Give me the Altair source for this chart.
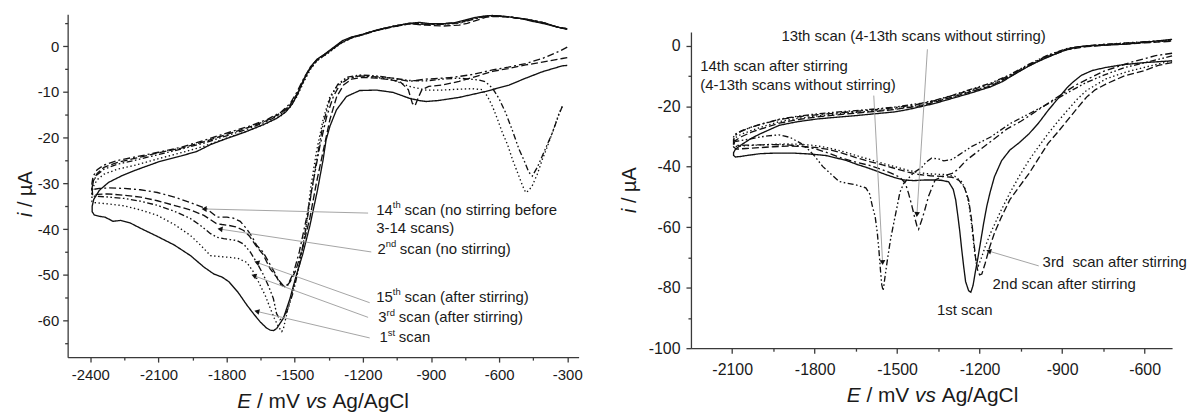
import json
import altair as alt
import pandas as pd

FONT = "Liberation Sans"
INK = "#111111"

# ---------------- Left panel (E / mV, i / uA) ----------------
L_SCAN1 = [(-300,-4.2),(-322,-4.3),(-410,-5.6),(-483,-7.0),(-556,-8.5),(-659,-9.9),(-776,-11.2),(-870,-11.9),(-922,-12.1),(-951,-11.9),(-995,-11.4),(-1068,-10.1),(-1141,-9.6),(-1214,-9.7),(-1272,-11.0),(-1316,-13.9),(-1345,-17.5),(-1362,-20.5),(-1375,-24.8),(-1400,-31.5),(-1433,-39.2),(-1465,-45.5),(-1497,-50.8),(-1521,-55.2),(-1550,-59.5),(-1579,-61.7),(-1593,-62.2),(-1608,-62.1),(-1625,-61.6),(-1652,-60.3),(-1680,-58.6),(-1711,-56.6),(-1750,-53.8),(-1790,-51.5),(-1820,-50.5),(-1857,-49.8),(-1900,-48.3),(-1959,-45.8),(-2030,-43.5),(-2105,-41.6),(-2180,-39.8),(-2223,-38.7),(-2266,-38.1),(-2300,-38.3),(-2335,-37.4),(-2360,-37.2),(-2383,-36.9),(-2392,-36.2),
            (-2392,-35.0),(-2385,-33.5),(-2360,-31.5),(-2320,-29.8),(-2260,-28.3),(-2200,-27.1),(-2100,-25.3),(-2000,-24.0),(-1930,-23.0),(-1870,-21.5),(-1800,-20.2),(-1720,-18.8),(-1640,-17.2),(-1580,-15.8),(-1540,-14.4),(-1510,-12.6),(-1485,-10.2),(-1460,-7.2),(-1430,-4.5),(-1400,-2.8),(-1370,-1.8),(-1330,-0.3),(-1290,1.2),(-1250,2.0),(-1200,2.6),(-1141,3.5),(-1070,4.3),(-995,5.0),(-950,5.2),(-900,4.9),(-850,4.9),(-800,5.1),(-750,5.7),(-703,6.3),(-660,6.6),(-629,6.7),(-590,6.6),(-556,6.4),(-500,6.0),(-450,5.4),(-410,5.0),(-370,4.5),(-337,4.1),(-300,3.8)]
L_SCAN2 = [(-300,-2.5),(-322,-2.7),(-410,-3.5),(-483,-4.1),(-560,-4.9),(-629,-5.5),(-700,-6.6),(-776,-7.7),(-849,-8.5),(-910,-8.8),(-940,-9.5),(-958,-11.5),(-970,-13.0),(-982,-12.5),(-1000,-9.5),(-1038,-7.7),(-1100,-7.2),(-1141,-7.0),(-1200,-6.8),(-1250,-7.2),(-1285,-8.5),(-1315,-11.0),(-1345,-16.0),(-1375,-23.0),(-1405,-30.0),(-1433,-37.5),(-1465,-44.0),(-1495,-49.0),(-1520,-51.5),(-1540,-52.7),(-1560,-52.2),(-1580,-50.5),(-1608,-48.7),(-1640,-45.5),(-1667,-43.9),(-1700,-41.5),(-1725,-40.3),(-1760,-39.5),(-1790,-39.2),(-1820,-39.0),(-1845,-38.8),(-1900,-37.0),(-1960,-35.8),(-2032,-34.8),(-2105,-33.8),(-2179,-33.0),(-2250,-32.6),(-2325,-32.3),(-2370,-32.4),(-2390,-32.6),
            (-2392,-31.2),(-2387,-29.5),(-2370,-27.8),(-2340,-26.5),(-2280,-25.4),(-2200,-24.5),(-2100,-23.3),(-2000,-22.3),(-1900,-20.9),(-1800,-19.3),(-1700,-17.7),(-1620,-16.2),(-1560,-14.6),(-1520,-12.8),(-1490,-10.4),(-1460,-7.3),(-1430,-4.7),(-1400,-3.0),(-1360,-1.6),(-1300,0.6),(-1250,1.8),(-1200,2.5),(-1141,3.4),(-1070,4.2),(-995,4.9),(-922,4.6),(-849,4.4),(-776,4.6),(-740,5.0),(-703,5.6),(-660,6.3),(-629,6.5),(-556,6.4),(-483,5.9),(-410,5.2),(-337,4.1),(-300,3.7)]
L_SCAN14 = [(-300,-0.2),(-330,-1.0),(-410,-2.7),(-483,-3.8),(-560,-4.6),(-629,-5.2),(-720,-6.2),(-800,-6.8),(-849,-7.0),(-922,-7.2),(-995,-7.7),(-1068,-7.0),(-1141,-6.7),(-1214,-6.5),(-1260,-7.0),(-1300,-8.3),(-1330,-11.0),(-1360,-15.5),(-1390,-22.0),(-1420,-30.0),(-1450,-38.0),(-1480,-45.0),(-1505,-49.5),(-1530,-52.2),(-1550,-52.4),(-1570,-51.2),(-1600,-48.5),(-1640,-45.0),(-1667,-43.6),(-1690,-41.5),(-1711,-40.0),(-1740,-38.3),(-1770,-37.6),(-1798,-37.4),(-1842,-37.4),(-1886,-35.6),(-1959,-34.2),(-2030,-33.0),(-2105,-32.0),(-2180,-31.4),(-2252,-31.1),(-2320,-31.0),(-2360,-31.1),(-2383,-31.3),(-2393,-31.5),
             (-2393,-30.0),(-2388,-28.5),(-2370,-27.0),(-2340,-26.0),(-2280,-25.0),(-2200,-24.2),(-2100,-23.2),(-2000,-22.1),(-1900,-20.6),(-1800,-19.0),(-1700,-17.5),(-1620,-16.0),(-1560,-14.4),(-1520,-12.5),(-1490,-10.0),(-1460,-7.0),(-1430,-4.5),(-1400,-2.8),(-1360,-1.5),(-1300,0.7),(-1250,1.9),(-1200,2.6),(-1141,3.5),(-1070,4.3),(-995,5.0),(-922,4.8),(-849,4.8),(-776,5.1),(-703,6.0),(-660,6.5),(-629,6.6),(-556,6.4),(-483,5.9),(-410,5.2),(-337,4.1),(-300,3.8)]
L_SCAN3 = [(-322,-13.2),(-337,-14.8),(-366,-19.0),(-388,-22.0),(-410,-24.8),(-432,-28.0),(-454,-30.5),(-470,-31.6),(-483,-32.0),(-497,-30.5),(-520,-27.5),(-541,-24.8),(-563,-21.5),(-585,-19.0),(-607,-16.0),(-629,-13.2),(-651,-11.0),(-673,-9.5),(-720,-9.3),(-776,-9.4),(-849,-9.6),(-922,-9.6),(-995,-8.8),(-1068,-7.4),(-1141,-6.8),(-1214,-6.5),(-1270,-7.0),(-1310,-8.5),(-1345,-11.0),(-1375,-16.0),(-1404,-23.0),(-1430,-31.0),(-1448,-39.0),(-1470,-45.5),(-1492,-50.4),(-1515,-54.5),(-1535,-58.5),(-1550,-61.8),(-1557,-62.4),(-1570,-61.5),(-1590,-59.5),(-1608,-57.3),(-1630,-54.5),(-1652,-52.3),(-1680,-49.5),(-1711,-47.3),(-1750,-46.4),(-1784,-46.2),(-1830,-46.0),(-1871,-45.8),(-1915,-43.5),(-1959,-41.4),(-2030,-39.0),(-2105,-37.0),(-2180,-35.8),(-2252,-34.9),(-2320,-34.5),(-2383,-34.2),(-2393,-34.0),
            (-2393,-32.3),(-2388,-30.8),(-2370,-29.2),(-2340,-28.0),(-2280,-26.9),(-2200,-26.0),(-2100,-24.6),(-2000,-23.3),(-1900,-21.9),(-1800,-20.1),(-1700,-18.4),(-1620,-16.8),(-1560,-15.2),(-1520,-13.3),(-1490,-11.0),(-1460,-7.8),(-1430,-5.0),(-1400,-3.1),(-1360,-1.8),(-1300,0.5),(-1250,1.8),(-1200,2.5),(-1141,3.4),(-1070,4.2),(-995,4.9),(-922,4.8),(-849,4.8),(-776,5.0),(-703,6.1),(-660,6.5),(-629,6.6),(-556,6.4),(-483,5.9),(-410,5.2),(-337,4.1),(-300,3.8)]
L_SCAN15 = [(-322,-13.2),(-337,-15.0),(-366,-19.0),(-388,-21.5),(-410,-24.0),(-432,-26.5),(-454,-28.4),(-470,-27.5),(-490,-25.0),(-512,-22.6),(-541,-18.5),(-571,-14.6),(-600,-11.5),(-629,-9.2),(-660,-7.8),(-688,-7.4),(-776,-7.0),(-849,-7.2),(-922,-7.6),(-995,-7.5),(-1068,-7.0),(-1141,-6.5),(-1214,-6.3),(-1270,-6.8),(-1310,-8.3),(-1345,-11.5),(-1375,-17.0),(-1404,-25.0),(-1430,-33.0),(-1455,-41.0),(-1480,-48.0),(-1505,-53.5),(-1530,-57.5),(-1550,-59.5),(-1565,-59.8),(-1580,-58.5),(-1594,-55.2),(-1615,-52.5),(-1637,-50.1),(-1665,-47.5),(-1696,-45.0),(-1725,-43.3),(-1754,-42.5),(-1784,-42.3),(-1813,-42.1),(-1842,-41.8),(-1871,-41.0),(-1915,-39.2),(-1959,-37.7),(-2030,-36.1),(-2105,-34.8),(-2180,-33.9),(-2252,-33.3),(-2320,-33.0),(-2383,-32.8),(-2393,-32.6),
             (-2393,-31.2),(-2388,-29.6),(-2370,-28.1),(-2340,-26.9),(-2280,-25.8),(-2200,-24.9),(-2100,-23.7),(-2000,-22.5),(-1900,-21.2),(-1800,-19.6),(-1700,-18.0),(-1620,-16.4),(-1560,-14.8),(-1520,-13.0),(-1490,-10.6),(-1460,-7.5),(-1430,-4.8),(-1400,-3.0),(-1360,-1.7),(-1300,0.6),(-1250,1.9),(-1200,2.6),(-1141,3.5),(-1070,4.3),(-995,5.0),(-922,4.8),(-849,4.9),(-776,5.2),(-703,6.2),(-660,6.6),(-629,6.7),(-556,6.4),(-483,5.9),(-410,5.2),(-337,4.1),(-300,3.8)]

# label pieces: number, superscript, rest, E, i
L_LABELS = [("14", "th", "scan (no stirring before", -1141, -36.9),
            ("3-14 scans)", "", "", -1141, -40.9),
            ("2", "nd", "scan (no stirring)", -1136, -45.4),
            ("15", "th", "scan (after stirring)", -1141, -55.9),
            ("3", "rd", "scan (after stirring)", -1132, -60.4),
            ("1", "st", "scan", -1127, -64.7)]
# arrows: from (E, i) to (E, i), head angle
L_ARROWS = [(-1177, -36.5, -1899, -35.6, 1),
            (-1163, -45.0, -1829, -40.0, 9),
            (-1170, -56.1, -1667, -47.3, 20),
            (-1177, -59.3, -1680, -50.2, 20),
            (-1170, -63.8, -1667, -58.0, 13)]

LX_MAJOR = [-2400, -2100, -1800, -1500, -1200, -900, -600, -300]
LX_MINOR = [-2250, -1950, -1650, -1350, -1050, -750, -450]
LY_MAJOR = [0, -10, -20, -30, -40, -50, -60]
LY_MINOR = [5, -5, -15, -25, -35, -45, -55, -65]

# ---------------- Right panel ----------------
R_SCAN1 = [(-500,-5.0),(-601,-5.6),(-680,-6.3),(-741,-7.2),(-790,-8.2),(-830,-9.8),(-860,-12.0),(-881,-13.8),(-915,-17.5),(-951,-21.4),(-985,-25.5),(-1020,-29.1),(-1055,-32.0),(-1090,-34.5),(-1120,-38.0),(-1146,-43.3),(-1162,-48.5),(-1174,-53.1),(-1185,-58.5),(-1195,-64.0),(-1206,-70.0),(-1216,-75.0),(-1224,-79.3),(-1232,-81.5),(-1240,-81.0),(-1251,-78.0),(-1258,-73.0),(-1265,-67.5),(-1272,-61.5),(-1279,-56.4),(-1287,-51.0),(-1296,-47.5),(-1313,-45.0),(-1340,-44.5),(-1369,-44.4),(-1400,-44.4),(-1439,-44.6),(-1475,-44.4),(-1509,-43.6),(-1545,-42.5),(-1579,-41.3),(-1613,-40.2),(-1648,-39.2),(-1683,-38.0),(-1718,-37.2),(-1760,-36.3),(-1820,-35.8),(-1880,-35.5),(-1940,-35.5),(-1997,-35.7),(-2040,-36.2),(-2067,-36.6),(-2088,-36.8),(-2095,-36.3),
           (-2095,-35.4),(-2088,-34.2),(-2067,-32.8),(-2030,-30.6),(-1997,-29.1),(-1960,-27.6),(-1928,-26.3),(-1860,-25.1),(-1788,-24.2),(-1700,-23.5),(-1648,-23.1),(-1580,-22.5),(-1509,-21.9),(-1460,-21.1),(-1411,-20.1),(-1360,-19.0),(-1299,-17.4),(-1230,-15.6),(-1160,-13.6),(-1120,-12.0),(-1090,-10.4),(-1055,-8.5),(-1020,-6.7),(-985,-5.1),(-951,-3.8),(-915,-2.4),(-881,-1.2),(-845,-0.4),(-811,-0.1),(-741,0.2),(-671,0.5),(-600,1.1),(-550,1.6),(-500,2.1)]
R_SCAN2 = [(-500,-5.6),(-550,-6.5),(-601,-8.3),(-671,-9.9),(-741,-12.7),(-780,-14.6),(-811,-17.0),(-846,-20.8),(-881,-24.7),(-915,-28.5),(-951,-32.3),(-985,-37.2),(-1020,-42.2),(-1055,-46.5),(-1090,-50.9),(-1120,-56.5),(-1146,-61.9),(-1165,-67.0),(-1180,-72.0),(-1192,-75.5),(-1200,-75.8),(-1208,-74.0),(-1215,-70.0),(-1222,-64.0),(-1230,-57.0),(-1240,-51.0),(-1255,-47.0),(-1275,-44.5),(-1300,-43.5),(-1340,-43.2),(-1380,-43.0),(-1420,-42.6),(-1460,-41.8),(-1500,-40.8),(-1550,-39.5),(-1600,-38.3),(-1650,-37.0),(-1700,-35.5),(-1750,-34.3),(-1800,-33.6),(-1850,-33.3),(-1900,-33.2),(-1950,-33.4),(-2000,-33.7),(-2050,-34.0),(-2085,-34.2),(-2095,-33.5),
           (-2095,-32.5),(-2088,-31.3),(-2067,-30.1),(-2030,-28.6),(-1997,-27.6),(-1928,-25.6),(-1860,-24.4),(-1788,-23.5),(-1700,-22.7),(-1600,-21.9),(-1509,-21.1),(-1411,-19.8),(-1360,-18.6),(-1299,-17.0),(-1230,-15.2),(-1160,-13.3),(-1090,-10.2),(-1020,-6.6),(-951,-3.6),(-881,-1.3),(-811,-0.3),(-741,0.2),(-671,0.5),(-600,0.9),(-500,1.5)]
R_SCAN3 = [(-500,-5.0),(-580,-6.7),(-671,-8.8),(-741,-11.0),(-811,-14.8),(-846,-17.8),(-881,-21.4),(-915,-25.0),(-951,-29.1),(-985,-33.3),(-1020,-37.8),(-1055,-43.0),(-1090,-48.7),(-1125,-55.0),(-1160,-61.9),(-1180,-66.5),(-1195,-70.5),(-1205,-72.8),(-1212,-72.0),(-1220,-67.0),(-1228,-60.0),(-1238,-53.0),(-1250,-48.0),(-1265,-45.0),(-1290,-43.2),(-1330,-42.6),(-1380,-42.4),(-1420,-42.0),(-1460,-41.2),(-1500,-40.2),(-1550,-39.0),(-1600,-37.6),(-1650,-36.3),(-1700,-34.9),(-1750,-33.8),(-1800,-33.0),(-1850,-32.6),(-1900,-32.5),(-1950,-32.6),(-2000,-32.8),(-2050,-33.1),(-2085,-33.3),(-2095,-32.7),
           (-2095,-31.5),(-2088,-30.4),(-2067,-29.3),(-2030,-28.0),(-1997,-27.0),(-1928,-25.1),(-1860,-24.0),(-1788,-23.2),(-1700,-22.4),(-1600,-21.7),(-1509,-20.9),(-1411,-19.6),(-1360,-18.4),(-1299,-16.8),(-1230,-15.0),(-1160,-13.2),(-1090,-10.1),(-1020,-6.6),(-951,-3.5),(-881,-1.2),(-811,-0.2),(-741,0.3),(-671,0.7),(-600,1.1),(-500,1.6)]
R_SCAN13 = [(-500,-2.5),(-560,-3.3),(-650,-5.5),(-750,-8.5),(-850,-13.0),(-950,-19.0),(-1050,-25.0),(-1100,-27.5),(-1150,-31.0),(-1200,-34.5),(-1250,-38.0),(-1280,-41.0),(-1300,-42.2),(-1330,-43.0),(-1362,-44.4),(-1386,-49.8),(-1400,-54.5),(-1410,-57.5),(-1422,-60.7),(-1428,-59.6),(-1437,-56.5),(-1446,-53.1),(-1458,-49.0),(-1470,-45.5),(-1490,-43.5),(-1520,-42.2),(-1560,-40.8),(-1600,-39.6),(-1650,-38.5),(-1700,-37.2),(-1750,-35.5),(-1800,-34.0),(-1850,-33.2),(-1900,-32.8),(-1950,-32.7),(-2000,-32.8),(-2050,-32.9),(-2085,-33.0),(-2095,-32.3),
            (-2095,-31.0),(-2088,-29.6),(-2067,-28.3),(-2030,-26.9),(-1997,-26.0),(-1928,-24.4),(-1860,-23.5),(-1788,-22.8),(-1700,-22.1),(-1600,-21.3),(-1509,-20.5),(-1411,-19.2),(-1360,-18.1),(-1299,-16.5),(-1230,-14.6),(-1160,-12.7),(-1090,-9.8),(-1020,-6.3),(-951,-3.2),(-881,-1.0),(-811,-0.1),(-741,0.4),(-671,0.8),(-600,1.2),(-500,1.8)]
R_SCAN14 = [(-500,-3.4),(-580,-5.2),(-671,-7.2),(-741,-9.5),(-811,-12.1),(-881,-15.6),(-951,-19.2),(-1020,-22.5),(-1090,-25.8),(-1125,-28.0),(-1160,-30.2),(-1195,-31.8),(-1230,-33.4),(-1265,-35.5),(-1300,-37.6),(-1330,-38.1),(-1350,-37.4),(-1375,-37.2),(-1395,-38.5),(-1411,-40.3),(-1440,-42.0),(-1476,-45.5),(-1490,-48.5),(-1500,-53.1),(-1512,-58.5),(-1524,-64.0),(-1535,-70.5),(-1542,-75.0),(-1551,-81.0),(-1556,-79.0),(-1560,-75.0),(-1566,-68.0),(-1572,-62.0),(-1580,-56.5),(-1590,-53.1),(-1600,-49.0),(-1614,-47.0),(-1651,-46.0),(-1680,-45.5),(-1711,-44.9),(-1740,-42.5),(-1771,-39.9),(-1800,-36.5),(-1821,-34.5),(-1850,-32.3),(-1890,-30.3),(-1930,-29.5),(-1970,-29.8),(-2010,-30.4),(-2050,-31.1),(-2085,-31.6),(-2095,-31.2),
            (-2095,-30.2),(-2088,-29.2),(-2067,-28.2),(-2030,-26.9),(-1997,-26.0),(-1928,-24.3),(-1860,-23.3),(-1788,-22.5),(-1700,-21.8),(-1600,-21.1),(-1509,-20.3),(-1411,-19.0),(-1360,-18.0),(-1299,-16.4),(-1230,-14.4),(-1160,-12.4),(-1090,-9.6),(-1020,-6.1),(-951,-3.1),(-881,-0.9),(-811,0.0),(-741,0.5),(-671,0.9),(-600,1.3),(-500,1.9)]

R_LABELS = [("13th scan (4-13th scans without stirring)", -1921, 1.5),
            ("14th scan after stirring", -2216, -8.5),
            ("(4-13th scans without stirring)", -2216, -14.6),
            ("3rd\u00a0 scan after stirring", -971, -73.3),
            ("2nd scan after stirring", -1153, -80.4),
            ("1st scan", -1355, -89.0)]
R_ARROWS = [(-1585, -16.5, -1553, -71.7, 357, "triangle-down"),
            (-1390, -1.2, -1428, -55.8, 4, "triangle-down"),
            (-985, -72.8, -1167, -67.9, 17, "triangle-left")]

RX_MAJOR = [-2100, -1800, -1500, -1200, -900, -600]
RX_MINOR = [-1950, -1650, -1350, -1050, -750]
RY_MAJOR = [0, -20, -40, -60, -80, -100]
RY_MINOR = [-10, -30, -50, -70, -90]

# ---------------- styles ----------------
DASH = {"solid": [1, 0], "dash": [7, 3], "dot": [1.4, 2.6],
        "dashdot": [7, 3, 2, 3], "dashdotdot": [6, 2.5, 1.6, 2.5, 1.6, 2.5]}
ONE = pd.DataFrame({"k": [0]})
NO_FRAME = alt.ViewBackground(strokeOpacity=0, fillOpacity=0, strokeWidth=0)


def axis(major, minor, pad, fs):
    test = "indexof(%s, datum.value) >= 0" % json.dumps(major)
    return alt.Axis(values=major + minor, labelExpr="%s ? '' + datum.value : ''" % test,
                    tickSize={"condition": {"test": test, "value": 5}, "value": 3},
                    grid=False, title=None, labelFont=FONT, labelFontSize=fs,
                    labelColor="#1a1a1a", domainColor="#3a3a3a", tickColor="#3a3a3a",
                    domainWidth=1.3, tickWidth=1.3, labelPadding=pad,
                    labelFlush=False, labelOverlap=False)


def x_title(cx, base, f):
    x0 = cx - 8.225 * f / 2
    parts = [("E", 0.0, "italic"), ("/ mV", 0.945, "normal"),
             ("vs", 3.279, "italic"), ("Ag/AgCl", 4.557, "normal")]
    return [alt.Chart(ONE).mark_text(align="left", baseline="alphabetic", font=FONT,
                                     fontSize=f, fontStyle=st, color="#1a1a1a")
            .encode(x=alt.value(x0 + off * f), y=alt.value(base), text=alt.value(s))
            for s, off, st in parts]


def y_title(base, cy, f):
    y0 = cy + 2.299 * f / 2
    parts = [("i", 0.0, "italic"), ("/ µA", 0.5, "normal")]
    return [alt.Chart(ONE).mark_text(align="left", baseline="alphabetic", font=FONT,
                                     fontSize=f, fontStyle=st, angle=270, color="#1a1a1a")
            .encode(x=alt.value(base), y=alt.value(y0 - off * f), text=alt.value(s))
            for s, off, st in parts]


def curves_layer(series, X, Y):
    layers = []
    for name, pts, style in series:
        df = pd.DataFrame({"E": [p[0] for p in pts], "I": [p[1] for p in pts],
                           "k": list(range(len(pts))), "s": name})
        layers.append(alt.Chart(df).mark_line(color=INK, strokeWidth=1.35,
                                              strokeDash=DASH[style], interpolate="linear")
                      .encode(x=X, y=Y, order="k:Q"))
    return layers


def arrows_layer(arrows, X, Y, X2, Y2, default_shape="triangle-left"):
    rows = []
    for a in arrows:
        rows.append({"E": a[0], "I": a[1], "E2": a[2], "I2": a[3], "ang": a[4],
                     "shape": a[5] if len(a) > 5 else default_shape})
    df = pd.DataFrame(rows)
    rule = alt.Chart(df).mark_rule(color="#9a9a9a", strokeWidth=0.9).encode(
        x=X, y=Y, x2="E2:Q", y2="I2:Q")
    heads = []
    for shp in sorted(df["shape"].unique()):
        heads.append(alt.Chart(df[df["shape"] == shp]).mark_point(
            shape=shp, filled=True, color=INK, size=34, opacity=1).encode(
            x=X2, y=Y2, angle=alt.Angle("ang:Q", scale=None)))
    return [rule] + heads


# ---------------- left panel ----------------
WL, HL = 514, 345
SXL = alt.Scale(domain=[-2500, -250], nice=False, zero=False)
SYL = alt.Scale(domain=[-68, 7], nice=False, zero=False)
AXL = axis(LX_MAJOR, LX_MINOR, 6, 15)
AYL = axis(LY_MAJOR, LY_MINOR, 4, 15)
XL = alt.X("E:Q", scale=SXL, axis=AXL)
YL = alt.Y("I:Q", scale=SYL, axis=AYL)
XL2 = alt.X("E2:Q", scale=SXL, axis=AXL)
YL2 = alt.Y("I2:Q", scale=SYL, axis=AYL)

left_layers = curves_layer([("1st scan", L_SCAN1, "solid"),
                            ("2nd scan", L_SCAN2, "dash"),
                            ("14th scan", L_SCAN14, "dashdot"),
                            ("3rd scan", L_SCAN3, "dot"),
                            ("15th scan", L_SCAN15, "dashdotdot")], XL, YL)
left_layers += arrows_layer(L_ARROWS, XL, YL, XL2, YL2)

lab = pd.DataFrame([{"num": a, "sup": b, "rest": c, "E": e, "I": i} for a, b, c, e, i in L_LABELS])
txt_kw = dict(align="left", baseline="alphabetic", font=FONT, fontSize=15, color="#1a1a1a")
left_layers.append(alt.Chart(lab).mark_text(**txt_kw).encode(x=XL, y=YL, text="num:N"))
for n_digits, sup, gap in [(2, "th", 7.5), (1, "nd", 10.0), (1, "rd", 8.0), (1, "st", 7.0)]:
    sub = lab[(lab["sup"] == sup) & (lab["num"].str.len() == n_digits)]
    if len(sub) == 0:
        continue
    w = 8.34 * n_digits
    left_layers.append(alt.Chart(sub).mark_text(align="left", baseline="alphabetic", font=FONT,
                                                fontSize=9.5, dx=w, dy=-6.5, color="#1a1a1a")
                       .encode(x=XL, y=YL, text="sup:N"))
    left_layers.append(alt.Chart(sub).mark_text(dx=w + gap + 4.2, **txt_kw)
                       .encode(x=XL, y=YL, text="rest:N"))
left_layers += x_title(257, HL + 51, 21)
left_layers += y_title(-36, 181, 20)

left = alt.layer(*left_layers).properties(width=WL, height=HL, view=NO_FRAME)

# ---------------- right panel ----------------
WR, HR = 484, 318
SXR = alt.Scale(domain=[-2250, -500], nice=False, zero=False)
SYR = alt.Scale(domain=[-100, 4.5], nice=False, zero=False)
AXR = axis(RX_MAJOR, RX_MINOR, 8, 16)
AYR = axis(RY_MAJOR, RY_MINOR, 6, 16)
XR = alt.X("E:Q", scale=SXR, axis=AXR)
YR = alt.Y("I:Q", scale=SYR, axis=AYR)
XR2 = alt.X("E2:Q", scale=SXR, axis=AXR)
YR2 = alt.Y("I2:Q", scale=SYR, axis=AYR)

right_layers = curves_layer([("1st scan", R_SCAN1, "solid"),
                             ("2nd scan after stirring", R_SCAN2, "dash"),
                             ("3rd scan after stirring", R_SCAN3, "dot"),
                             ("13th scan", R_SCAN13, "dashdot"),
                             ("14th scan after stirring", R_SCAN14, "dashdotdot")], XR, YR)
right_layers += arrows_layer(R_ARROWS, XR, YR, XR2, YR2)
rlab = pd.DataFrame([{"t": t, "E": e, "I": i} for t, e, i in R_LABELS])
right_layers.append(alt.Chart(rlab).mark_text(**txt_kw).encode(x=XR, y=YR, text="t:N"))
right_layers += x_title(243, HR + 54, 21)
right_layers += y_title(-55, 159, 20)

right = alt.layer(*right_layers).properties(width=WR, height=HR, view=NO_FRAME)

# blank strip that sits the right panel lower than the left one
spacer = alt.Chart(ONE).mark_point(opacity=0, size=1).encode(
    x=alt.value(1), y=alt.value(0.5)).properties(width=WR, height=1, view=NO_FRAME)
right_col = alt.vconcat(spacer, right, spacing=14)

chart = alt.hconcat(left, right_col, spacing=38).properties(
    padding={"left": 8, "top": 3, "right": 0, "bottom": 0}
).configure_view(strokeOpacity=0, strokeWidth=0).configure(font=FONT)

chart.save("out.html", embed_options={"renderer": "svg", "actions": False})
